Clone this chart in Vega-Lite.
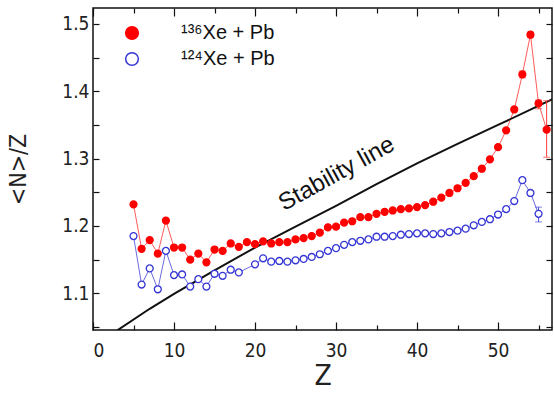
{
 "$schema": "https://vega.github.io/schema/vega-lite/v6.json",
 "width": 459, "height": 322,
 "autosize": {"type": "none"},
 "padding": {"left": 93, "top": 8, "right": 2, "bottom": 64},
 "background": "white",
 "config": {
  "view": {"stroke": "#111", "strokeWidth": 1.5},
  "axis": {"domain": false, "grid": false, "labelFont": "DejaVu Sans Condensed", "titleFont": "DejaVu Sans Condensed", "labelColor": "#222", "titleColor": "#222", "tickColor": "#111", "tickWidth": 1.2, "titleFontWeight": "normal"}
 },
 "datasets": {
  "pts": [
   {"Z":5,"s":"136","v":1.232},{"Z":6,"s":"136","v":1.166},{"Z":7,"s":"136","v":1.179},{"Z":8,"s":"136","v":1.159},{"Z":9,"s":"136","v":1.208},{"Z":10,"s":"136","v":1.168},{"Z":11,"s":"136","v":1.168},{"Z":12,"s":"136","v":1.150},{"Z":13,"s":"136","v":1.159},{"Z":14,"s":"136","v":1.146},{"Z":15,"s":"136","v":1.165},{"Z":16,"s":"136","v":1.163},{"Z":17,"s":"136","v":1.174},{"Z":18,"s":"136","v":1.169},{"Z":19,"s":"136","v":1.176},{"Z":20,"s":"136","v":1.173},{"Z":21,"s":"136","v":1.177},{"Z":22,"s":"136","v":1.174},{"Z":23,"s":"136","v":1.176},{"Z":24,"s":"136","v":1.176},{"Z":25,"s":"136","v":1.180},{"Z":26,"s":"136","v":1.182},{"Z":27,"s":"136","v":1.185},{"Z":28,"s":"136","v":1.190},{"Z":29,"s":"136","v":1.198},{"Z":30,"s":"136","v":1.199},{"Z":31,"s":"136","v":1.205},{"Z":32,"s":"136","v":1.207},{"Z":33,"s":"136","v":1.213},{"Z":34,"s":"136","v":1.213},{"Z":35,"s":"136","v":1.218},{"Z":36,"s":"136","v":1.221},{"Z":37,"s":"136","v":1.223},{"Z":38,"s":"136","v":1.225},{"Z":39,"s":"136","v":1.226},{"Z":40,"s":"136","v":1.228},{"Z":41,"s":"136","v":1.231},{"Z":42,"s":"136","v":1.236},{"Z":43,"s":"136","v":1.242},{"Z":44,"s":"136","v":1.249},{"Z":45,"s":"136","v":1.256},{"Z":46,"s":"136","v":1.264},{"Z":47,"s":"136","v":1.274},{"Z":48,"s":"136","v":1.285},{"Z":49,"s":"136","v":1.299},{"Z":50,"s":"136","v":1.317},{"Z":51,"s":"136","v":1.342},{"Z":52,"s":"136","v":1.373},{"Z":53,"s":"136","v":1.425,"lo":1.420,"hi":1.430},{"Z":54,"s":"136","v":1.484,"lo":1.480,"hi":1.488},{"Z":55,"s":"136","v":1.382,"lo":1.374,"hi":1.387},{"Z":56,"s":"136","v":1.343,"lo":1.302,"hi":1.386},
   {"Z":5,"s":"124","v":1.185},{"Z":6,"s":"124","v":1.113},{"Z":7,"s":"124","v":1.137},{"Z":8,"s":"124","v":1.106},{"Z":9,"s":"124","v":1.163},{"Z":10,"s":"124","v":1.127},{"Z":11,"s":"124","v":1.128},{"Z":12,"s":"124","v":1.110},{"Z":13,"s":"124","v":1.121},{"Z":14,"s":"124","v":1.110},{"Z":15,"s":"124","v":1.129},{"Z":16,"s":"124","v":1.126},{"Z":17,"s":"124","v":1.135},{"Z":18,"s":"124","v":1.131},{"Z":20,"s":"124","v":1.143},{"Z":21,"s":"124","v":1.152},{"Z":22,"s":"124","v":1.147},{"Z":23,"s":"124","v":1.148},{"Z":24,"s":"124","v":1.147},{"Z":25,"s":"124","v":1.149},{"Z":26,"s":"124","v":1.151},{"Z":27,"s":"124","v":1.154},{"Z":28,"s":"124","v":1.158},{"Z":29,"s":"124","v":1.163},{"Z":30,"s":"124","v":1.167},{"Z":31,"s":"124","v":1.172},{"Z":32,"s":"124","v":1.176},{"Z":33,"s":"124","v":1.178},{"Z":34,"s":"124","v":1.180},{"Z":35,"s":"124","v":1.184},{"Z":36,"s":"124","v":1.184},{"Z":37,"s":"124","v":1.185},{"Z":38,"s":"124","v":1.187},{"Z":39,"s":"124","v":1.188},{"Z":40,"s":"124","v":1.189},{"Z":41,"s":"124","v":1.189},{"Z":42,"s":"124","v":1.188},{"Z":43,"s":"124","v":1.189},{"Z":44,"s":"124","v":1.191},{"Z":45,"s":"124","v":1.193},{"Z":46,"s":"124","v":1.196},{"Z":47,"s":"124","v":1.201},{"Z":48,"s":"124","v":1.206},{"Z":49,"s":"124","v":1.210},{"Z":50,"s":"124","v":1.217},{"Z":51,"s":"124","v":1.225},{"Z":52,"s":"124","v":1.237},{"Z":53,"s":"124","v":1.268},{"Z":54,"s":"124","v":1.249},{"Z":55,"s":"124","v":1.218,"lo":1.206,"hi":1.228}
  ],
  "stab": [
   {"Z":3.0,"v":1.045},{"Z":7,"v":1.077},{"Z":10,"v":1.099},{"Z":15,"v":1.134},{"Z":20,"v":1.168},{"Z":25,"v":1.199},{"Z":30,"v":1.230},{"Z":35,"v":1.262},{"Z":40,"v":1.293},{"Z":45,"v":1.322},{"Z":50,"v":1.350},{"Z":57,"v":1.390}
  ],
  "note": [{"Z":30.5,"v":1.268,"label":"Stability line"}]
 },
 "layer": [
  {
   "data": {"name": "pts"},
   "transform": [{"filter": {"field": "s", "equal": "136"}}],
   "mark": {"type": "line", "color": "#ff5a5a", "strokeWidth": 1, "clip": true},
   "encoding": {
    "x": {"field": "Z", "type": "quantitative", "scale": {"domain": [0, 56.66], "nice": false, "zero": false},
     "axis": {"orient": "bottom", "values": [0,5,10,15,20,25,30,35,40,45,50,55], "labelExpr": "datum.value % 10 == 0 ? datum.label : ''", "tickSize": {"condition": {"test": "datum.value % 10 == 0", "value": -8}, "value": -5}, "labelPadding": 19, "labelFontSize": 19, "title": "Z", "titleFontSize": 28, "titlePadding": 2}},
    "y": {"field": "v", "type": "quantitative", "scale": {"domain": [1.0455, 1.5237], "nice": false, "zero": false},
     "axis": {"orient": "left", "values": [1.05,1.1,1.15,1.2,1.25,1.3,1.35,1.4,1.45,1.5], "labelExpr": "round(datum.value*100) % 10 == 0 ? format(datum.value, '.1f') : ''", "tickSize": -6, "labelPadding": 10, "labelFontSize": 19, "title": "<N>/Z", "titleFontSize": 23, "titlePadding": 31}}
   }
  },
  {
   "data": {"name": "pts"},
   "transform": [{"filter": {"field": "s", "equal": "124"}}],
   "mark": {"type": "line", "color": "#6a6ae0", "strokeWidth": 1, "clip": true},
   "encoding": {
    "x": {"field": "Z", "type": "quantitative", "scale": {"domain": [0, 56.66], "nice": false, "zero": false}, "axis": null},
    "y": {"field": "v", "type": "quantitative", "scale": {"domain": [1.0455, 1.5237], "nice": false, "zero": false}, "axis": null}
   }
  },
  {
   "data": {"name": "stab"},
   "mark": {"type": "line", "color": "#111", "strokeWidth": 2, "clip": true},
   "encoding": {
    "x": {"field": "Z", "type": "quantitative", "scale": {"domain": [0, 56.66], "nice": false, "zero": false}, "axis": null},
    "y": {"field": "v", "type": "quantitative", "scale": {"domain": [1.0455, 1.5237], "nice": false, "zero": false}, "axis": null}
   }
  },
  {
   "data": {"name": "pts"},
   "transform": [{"filter": "datum.lo != null && datum.s == '136'"}],
   "mark": {"type": "errorbar", "color": "#ff3a3a", "ticks": {"size": 7}, "thickness": 1},
   "encoding": {
    "x": {"field": "Z", "type": "quantitative", "scale": {"domain": [0, 56.66], "nice": false, "zero": false}, "axis": null},
    "y": {"field": "lo", "type": "quantitative", "scale": {"domain": [1.0455, 1.5237], "nice": false, "zero": false}, "axis": null},
    "y2": {"field": "hi"}
   }
  },
  {
   "data": {"name": "pts"},
   "transform": [{"filter": "datum.lo != null && datum.s == '124'"}],
   "mark": {"type": "errorbar", "color": "#4a4ad8", "ticks": {"size": 7}, "thickness": 1},
   "encoding": {
    "x": {"field": "Z", "type": "quantitative", "scale": {"domain": [0, 56.66], "nice": false, "zero": false}, "axis": null},
    "y": {"field": "lo", "type": "quantitative", "scale": {"domain": [1.0455, 1.5237], "nice": false, "zero": false}, "axis": null},
    "y2": {"field": "hi"}
   }
  },
  {
   "data": {"name": "pts"},
   "mark": {"type": "point", "shape": "circle", "size": 48, "strokeWidth": 1.3, "opacity": 1, "filled": false},
   "encoding": {
    "x": {"field": "Z", "type": "quantitative", "scale": {"domain": [0, 56.66], "nice": false, "zero": false},
     "axis": {"orient": "top", "values": [0,5,10,15,20,25,30,35,40,45,50,55], "labels": false, "title": null, "tickSize": {"condition": {"test": "datum.value % 10 == 0", "value": -8}, "value": -5}}},
    "y": {"field": "v", "type": "quantitative", "scale": {"domain": [1.0455, 1.5237], "nice": false, "zero": false},
     "axis": {"orient": "right", "values": [1.05,1.1,1.15,1.2,1.25,1.3,1.35,1.4,1.45,1.5], "labels": false, "title": null, "tickSize": -6}},
    "fill": {"field": "s", "type": "nominal", "scale": {"domain": ["136", "124"], "range": ["#ff0000", "#ffffff"]},
     "legend": {"orient": "none", "legendX": 29, "legendY": 15, "title": null, "labelExpr": "datum.value == '136' ? '¹³⁶Xe + Pb' : '¹²⁴Xe + Pb'", "labelFont": "Liberation Sans", "labelFontSize": 20, "labelColor": "#111", "symbolSize": 160, "symbolStrokeWidth": 1.5, "symbolType": "circle", "labelOffset": 39, "rowPadding": 6}},
    "stroke": {"field": "s", "type": "nominal", "scale": {"domain": ["136", "124"], "range": ["#ff0000", "#3535d5"]},
     "legend": {"orient": "none", "legendX": 29, "legendY": 15, "title": null, "labelExpr": "datum.value == '136' ? '¹³⁶Xe + Pb' : '¹²⁴Xe + Pb'", "labelFont": "Liberation Sans", "labelFontSize": 20, "labelColor": "#111", "symbolSize": 160, "symbolStrokeWidth": 1.5, "symbolType": "circle", "labelOffset": 39, "rowPadding": 6}}
   }
  },
  {
   "data": {"name": "note"},
   "mark": {"type": "text", "angle": 331, "font": "Liberation Sans", "fontSize": 24, "color": "#111", "align": "center", "baseline": "alphabetic"},
   "encoding": {
    "x": {"field": "Z", "type": "quantitative", "scale": {"domain": [0, 56.66], "nice": false, "zero": false}, "axis": null},
    "y": {"field": "v", "type": "quantitative", "scale": {"domain": [1.0455, 1.5237], "nice": false, "zero": false}, "axis": null},
    "text": {"field": "label"}
   }
  }
 ],
 "resolve": {"axis": {"x": "independent", "y": "independent"}}
}
